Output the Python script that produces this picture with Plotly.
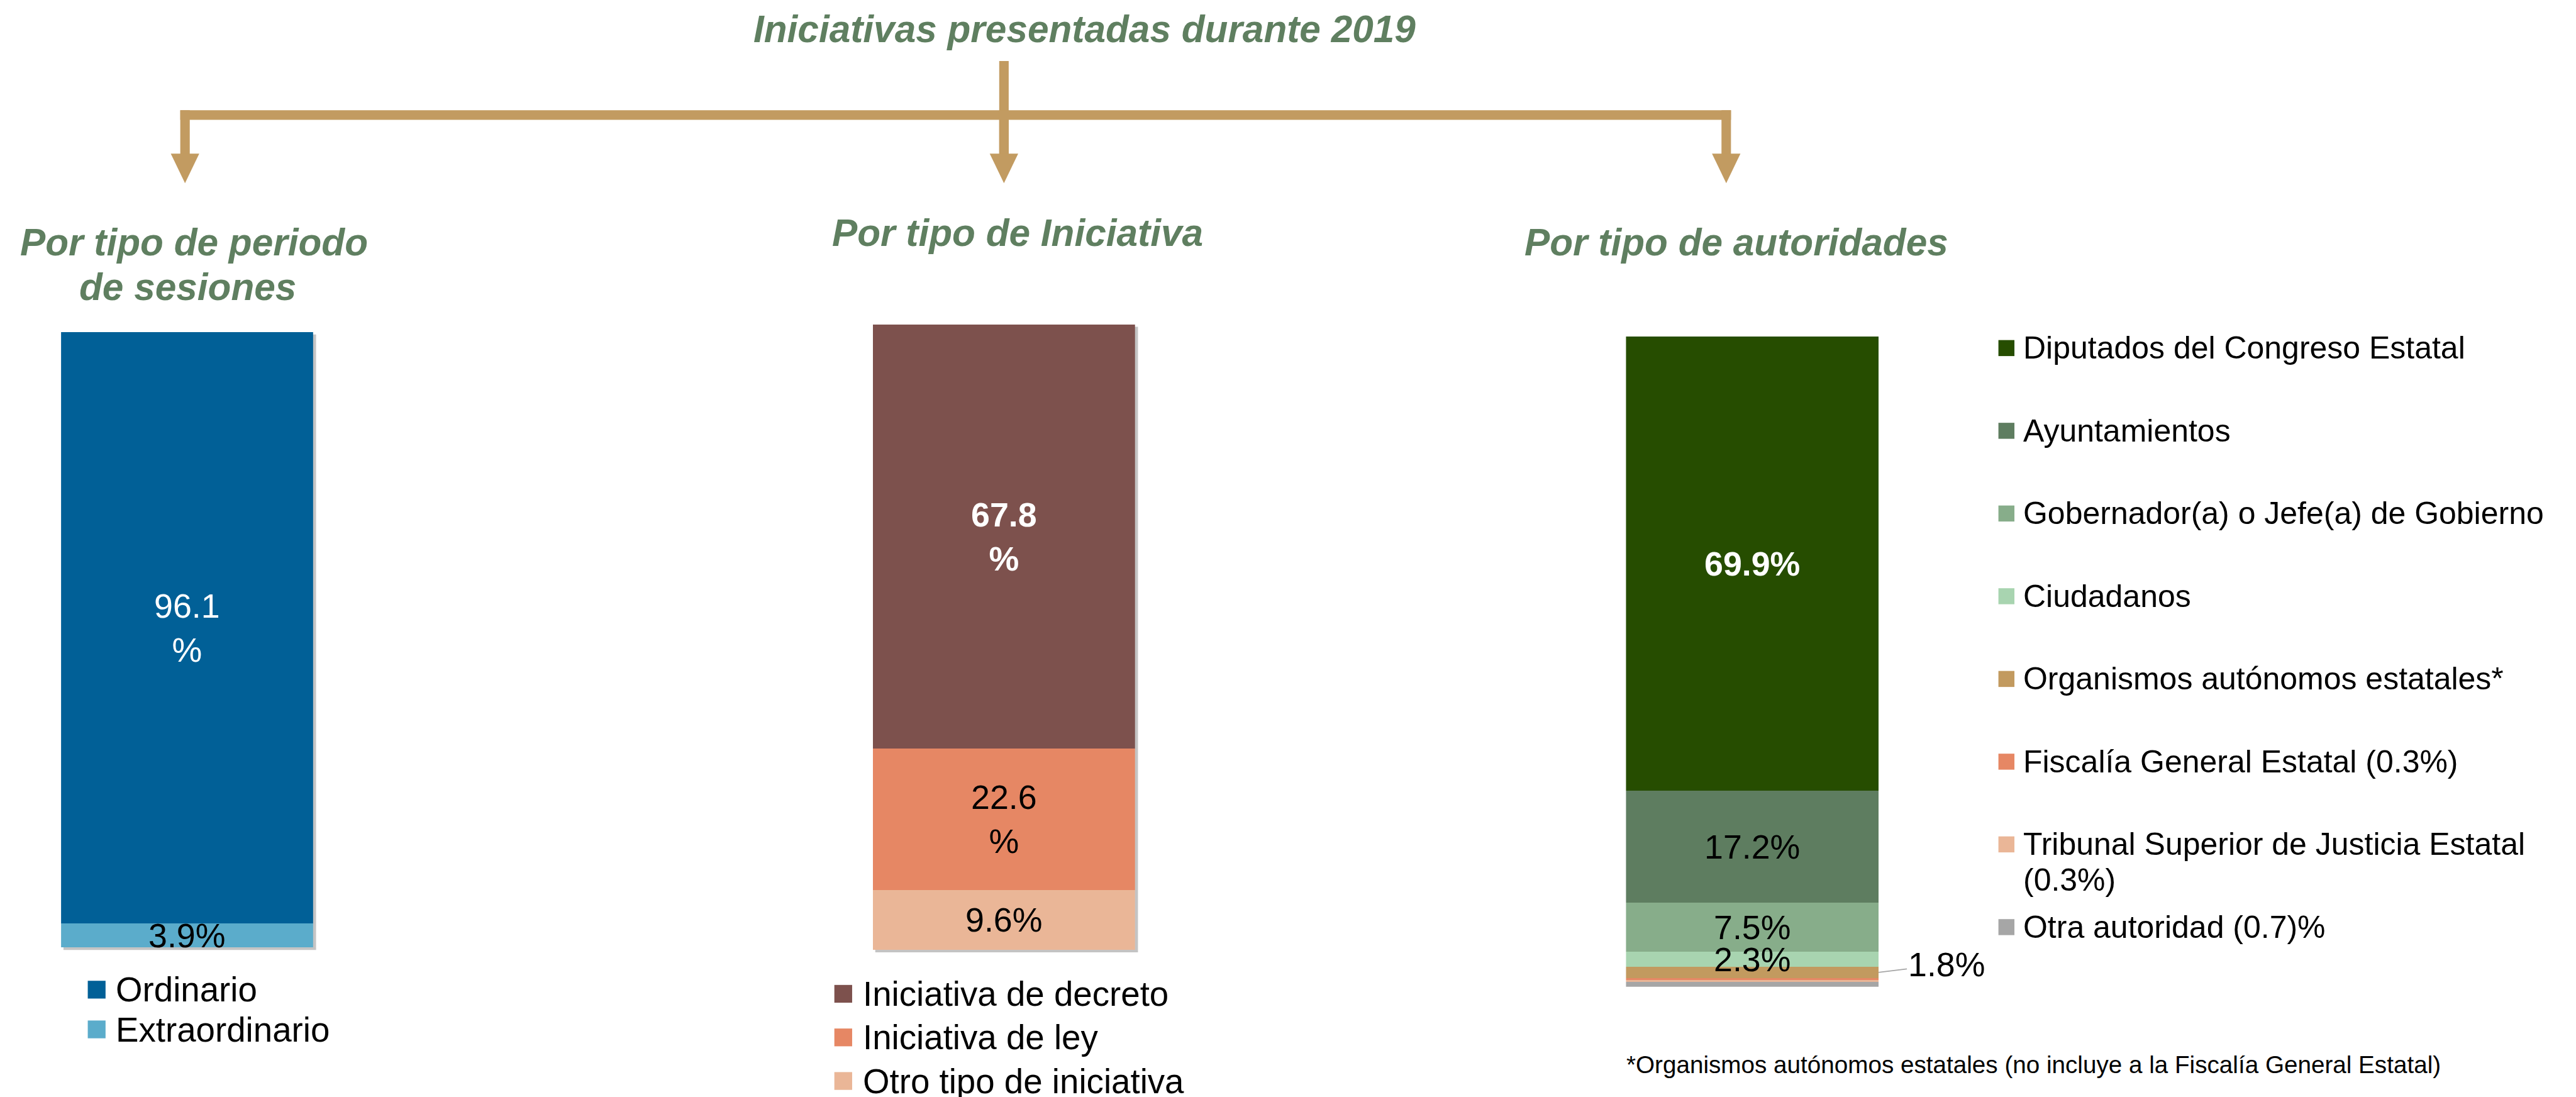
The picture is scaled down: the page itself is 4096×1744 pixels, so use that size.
import plotly.graph_objects as go

# ---------------- DATA ----------------
titulo = "Iniciativas presentadas durante 2019"
subtitulos = ["Por tipo de periodo", "de sesiones", "Por tipo de Iniciativa", "Por tipo de autoridades"]

periodo_labels = ["Ordinario", "Extraordinario"]
periodo_values = [96.1, 3.9]
periodo_colors = ["#016097", "#5BACCB"]
periodo_text = ["96.1<br>%", "3.9%"]

iniciativa_labels = ["Iniciativa de decreto", "Iniciativa de ley", "Otro tipo de iniciativa"]
iniciativa_values = [67.8, 22.6, 9.6]
iniciativa_colors = ["#7D514D", "#E68764", "#EAB697"]
iniciativa_text = ["<b>67.8<br>%</b>", "22.6<br>%", "9.6%"]

autoridad_labels = ["Diputados del Congreso Estatal", "Ayuntamientos",
                    "Gobernador(a) o Jefe(a) de Gobierno", "Ciudadanos",
                    "Organismos autónomos estatales*", "Fiscalía General Estatal (0.3%)",
                    "Tribunal Superior de Justicia Estatal<br>(0.3%)", "Otra autoridad (0.7)%"]
autoridad_values = [69.9, 17.2, 7.5, 2.3, 1.8, 0.3, 0.3, 0.7]
autoridad_colors = ["#264D00", "#5E7D60", "#87AD8A", "#A8D4B0", "#C29A5F", "#E68764", "#EAB697", "#A6A6A6"]
autoridad_text = ["<b>69.9%</b>", "17.2%", "7.5%", "2.3%", None, None, None, None]
nota = "*Organismos autónomos estatales (no incluye a la Fiscalía General Estatal)"

# ---------------- LAYOUT HELPERS ----------------
W_REF, H_REF = 4344, 1850
W, H = 4096, 1744
S = W / W_REF
FONT = "Liberation Sans, Arial, Helvetica, sans-serif"
GREEN = "#5F7F60"
TAN = "#C29B61"


def px(x):
    return x / W_REF


def py(y):
    return 1 - y / H_REF


def fs(v):
    return v * S


fig = go.Figure()
shapes = []
annotations = []

# chart boxes in reference pixels: (left, right, top, bottom)
boxes = [(103, 528, 560, 1598), (1472, 1914, 547, 1602), (2742, 3168, 567, 1664)]
series = [
    (periodo_values, periodo_colors, periodo_text, ["white", "black"]),
    (iniciativa_values, iniciativa_colors, iniciativa_text, ["white", "black", "black"]),
    (autoridad_values, autoridad_colors, autoridad_text, ["white"] + ["black"] * 7),
]

for i, ((vals, cols, texts, tcols), (l, r, t, b)) in enumerate(zip(series, boxes)):
    xa = "x" if i == 0 else f"x{i+1}"
    ya = "y" if i == 0 else f"y{i+1}"
    # stack: last element at the bottom
    order = list(range(len(vals)))[::-1]
    cum = 0
    for k in order:
        fig.add_trace(go.Bar(x=[0], y=[vals[k]], marker=dict(color=cols[k], line=dict(width=0)),
                             width=1, xaxis=xa, yaxis=ya, showlegend=False, hoverinfo="skip",
                             name=str(k)))
        mid = cum + vals[k] / 2
        if texts[k]:
            annotations.append(dict(x=0, y=mid, xref=xa, yref=ya, text=texts[k], showarrow=False,
                                    font=dict(family=FONT, size=fs(57), color=tcols[k]),
                                    xanchor="center", yanchor="middle"))
        cum += vals[k]
    fig.layout[("xaxis" if i == 0 else f"xaxis{i+1}")] = dict(
        domain=[px(l), px(r)], range=[-0.5, 0.5], visible=False, fixedrange=True,
        anchor=ya)
    fig.layout[("yaxis" if i == 0 else f"yaxis{i+1}")] = dict(
        domain=[py(b), py(t)], range=[0, sum(vals)], visible=False, fixedrange=True,
        anchor=xa)
    if i < 2:
        shapes.append(dict(type="rect", xref="paper", yref="paper", layer="below",
                           x0=px(l + 4), x1=px(r + 5), y0=py(b + 4), y1=py(t + 4),
                           fillcolor="#C4C4C4", line=dict(width=0)))

# leader label 1.8 %
mid_org = sum(autoridad_values[5:]) + autoridad_values[4] / 2
annotations.append(dict(x=0.5, y=mid_org, xref="x3", yref="y3", text="1.8%", showarrow=True,
                        arrowhead=0, arrowwidth=fs(2), arrowcolor="#A6A6A6",
                        axref="pixel", ayref="pixel", ax=fs(114), ay=fs(-14), standoff=0,
                        font=dict(family=FONT, size=fs(57), color="black")))

# ---------------- CONNECTOR ARROWS ----------------
def rect(x0, x1, y0, y1):
    shapes.append(dict(type="rect", xref="paper", yref="paper", x0=px(x0), x1=px(x1),
                       y0=py(y1), y1=py(y0), fillcolor=TAN, line=dict(width=0)))


def tri(cx, ybase, ytip, half):
    path = f"M {px(cx-half)},{py(ybase)} L {px(cx+half)},{py(ybase)} L {px(cx)},{py(ytip)} Z"
    shapes.append(dict(type="path", xref="paper", yref="paper", path=path,
                       fillcolor=TAN, line=dict(width=0)))


rect(304, 2919, 186, 202)        # horizontal bar
rect(1685, 1701, 103, 262)       # centre stem
for cx in (312, 1693, 2911):
    rect(cx - 8, cx + 8, 186, 262)
    tri(cx, 259, 309, 24)

# ---------------- TITLES ----------------
def txt(x, y, text, size, color="black", anchor="center"):
    annotations.append(dict(x=px(x), y=py(y), xref="paper", yref="paper", text=text,
                            showarrow=False, xanchor=anchor, yanchor="middle",
                            font=dict(family=FONT, size=fs(size), color=color)))


txt(1829, 49, f"<b><i>{titulo}</i></b>", 64, GREEN)
txt(327, 408, f"<b><i>{subtitulos[0]}</i></b>", 64, GREEN)
txt(317, 484, f"<b><i>{subtitulos[1]}</i></b>", 64, GREEN)
txt(1716, 393, f"<b><i>{subtitulos[2]}</i></b>", 64, GREEN)
txt(2928, 408, f"<b><i>{subtitulos[3]}</i></b>", 64, GREEN)

# ---------------- LEGENDS (manual) ----------------
def legend(labels, colors, mx0, msize, tx, y0, dy, size):
    for j, (lab, col) in enumerate(zip(labels, colors)):
        yc = y0 + j * dy
        shapes.append(dict(type="rect", xref="paper", yref="paper",
                           x0=px(mx0), x1=px(mx0 + msize), y0=py(yc + msize / 2), y1=py(yc - msize / 2),
                           fillcolor=col, line=dict(width=0)))
        parts = lab.split("<br>")
        for n, p in enumerate(parts):
            txt(tx, yc + n * 60, p, size, "black", "left")


legend(periodo_labels, periodo_colors, 148, 30, 193, 1669, 67, 58)
legend(iniciativa_labels, iniciativa_colors, 1407, 30, 1453, 1676, 73.5, 58)
legend(autoridad_labels, autoridad_colors, 3370, 27, 3410, 587, 139.5, 53)

txt(2740, 1795, nota, 41, "black", "left")

fig.update_layout(width=W, height=H, margin=dict(l=0, r=0, t=0, b=0),
                  paper_bgcolor="white", plot_bgcolor="rgba(0,0,0,0)",
                  barmode="stack", bargap=0, showlegend=False,
                  shapes=shapes, annotations=annotations)

fig.write_html("out.html", config={"displayModeBar": False, "staticPlot": True},
               post_script="document.body.style.margin='0';document.body.style.padding='0';"
                           "document.body.style.overflow='hidden';")
